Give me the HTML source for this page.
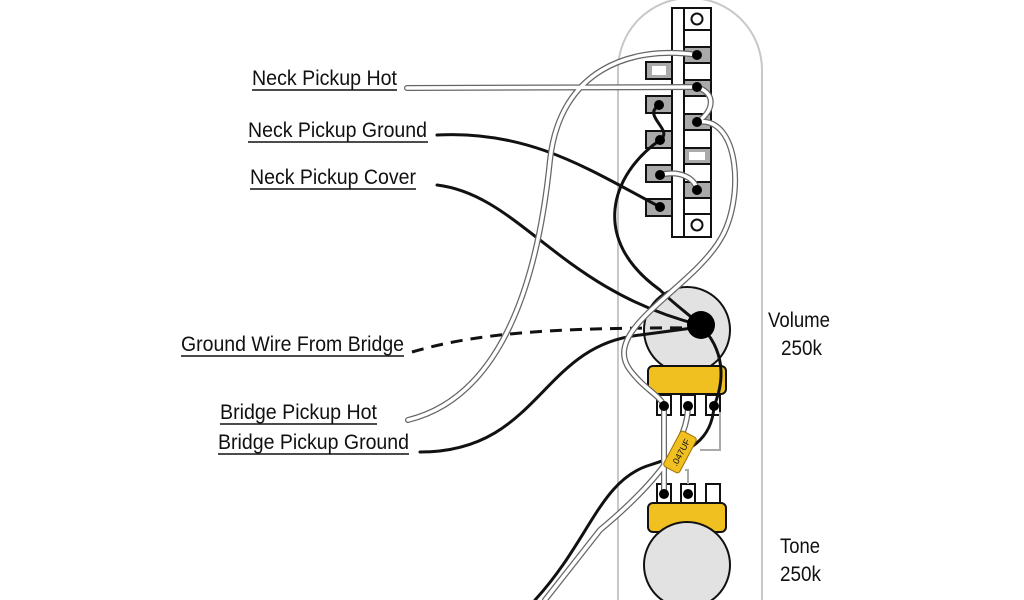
<!DOCTYPE html>
<html><head><meta charset="utf-8"><style>
html,body{margin:0;padding:0;background:#fff;}
svg{display:block;}
text{font-family:"Liberation Sans",Arial,sans-serif;font-size:21px;fill:#111;}
</style></head><body>
<svg width="1024" height="600" viewBox="0 0 1024 600" xmlns="http://www.w3.org/2000/svg">
<!-- control plate -->
<path d="M618,610 L618,70 A72,72 0 0 1 762,70 L762,610" fill="none" stroke="#c8c8c8" stroke-width="2"/>

<!-- switch -->
<g stroke="#111" stroke-width="2">
<rect x="672" y="8" width="39" height="229" fill="#fff"/>
<line x1="684" y1="8" x2="684" y2="237"/>
<g fill="#aaa">
<rect x="684" y="47" width="27" height="16"/>
<rect x="684" y="80" width="27" height="16"/>
<rect x="684" y="114" width="27" height="16"/>
<rect x="684" y="148" width="27" height="16"/>
<rect x="684" y="182" width="27" height="16"/>
<rect x="646" y="62" width="26" height="17"/>
<rect x="646" y="96" width="26" height="17"/>
<rect x="646" y="131" width="26" height="17"/>
<rect x="646" y="165" width="26" height="17"/>
<rect x="646" y="199" width="26" height="17"/>
</g>
<line x1="684" y1="30" x2="711" y2="30"/>
<line x1="684" y1="214" x2="711" y2="214"/>
</g>
<g fill="#fff" stroke="none">
<rect x="652" y="66" width="14" height="9"/>
<rect x="689" y="152" width="16" height="8"/>
<rect x="689" y="64" width="18" height="14"/>
</g>
<circle cx="697" cy="19" r="5.5" fill="#fff" stroke="#111" stroke-width="2"/>
<circle cx="697" cy="225" r="5.5" fill="#fff" stroke="#111" stroke-width="2"/>

<!-- volume pot -->
<circle cx="687" cy="330" r="43" fill="#e2e2e2" stroke="#111" stroke-width="2"/>
<rect x="648" y="366" width="78" height="28" rx="5" fill="#f0c020" stroke="#111" stroke-width="2"/>
<g fill="#fff" stroke="#111" stroke-width="2">
<rect x="657" y="395" width="14" height="20"/>
<rect x="681" y="395" width="14" height="20"/>
<rect x="706" y="395" width="14" height="20"/>
</g>
<!-- tone pot -->
<g fill="#fff" stroke="#111" stroke-width="2">
<rect x="657" y="484" width="14" height="19"/>
<rect x="681" y="484" width="14" height="19"/>
<rect x="706" y="484" width="14" height="19"/>
</g>
<rect x="648" y="503" width="78" height="29" rx="5" fill="#f0c020" stroke="#111" stroke-width="2"/>
<circle cx="687" cy="565" r="43" fill="#e2e2e2" stroke="#111" stroke-width="2"/>

<path d="M720,412 L720,450 L700,450 M685,470 L688,470 L688,484" fill="none" stroke="#aaa" stroke-width="2"/>

<!-- black wires -->
<g fill="none" stroke="#111" stroke-width="3" stroke-linecap="round">
<path d="M437,135 C530,130 590,170 660,207"/>
<path d="M437,185 C520,195 560,290 700,325"/>
<path d="M660,105 C640,115 675,130 660,140 C610,175 590,240 660,290 C675,305 690,315 700,325"/>
<path d="M420,452 C540,452 540,345 640,335 L700,327"/>
<path d="M700,325 C725,350 725,380 714,406 C712,440 690,452 650,465 C600,480 590,540 535,600"/>
</g>
<path d="M412,352 C470,335 540,327 700,328" fill="none" stroke="#111" stroke-width="3" stroke-dasharray="12,8"/>
<circle cx="701" cy="325" r="14" fill="#000"/>

<!-- white wires -->
<g fill="none" stroke-linecap="round">
<g stroke="#666" stroke-width="6">
<path d="M407,88 L697,87"/>
<path d="M697,87 C720,95 710,115 697,122"/>
<path d="M408,420 C510,395 540,260 550,160 C560,70 630,45 697,55"/>
<path d="M697,122 C740,115 745,200 720,240 C690,290 600,330 630,370 C645,390 660,395 664,406"/>
<path d="M660,175 C680,170 695,178 697,190"/>
<path d="M664,406 L664,493"/>
<path d="M688,406 C688,440 660,480 600,530 L545,600"/>
</g>
<g stroke="#fff" stroke-width="3.5">
<path d="M407,88 L697,87"/>
<path d="M697,87 C720,95 710,115 697,122"/>
<path d="M408,420 C510,395 540,260 550,160 C560,70 630,45 697,55"/>
<path d="M697,122 C740,115 745,200 720,240 C690,290 600,330 630,370 C645,390 660,395 664,406"/>
<path d="M660,175 C680,170 695,178 697,190"/>
<path d="M664,406 L664,493"/>
<path d="M688,406 C688,440 660,480 600,530 L545,600"/>
</g>
</g>

<!-- capacitor -->
<g transform="translate(680,452) rotate(-62)">
<rect x="-20" y="-9" width="40" height="18" rx="3" fill="#f0c020" stroke="#a07000" stroke-width="1"/>
<text x="0" y="4" text-anchor="middle" style="font-size:9px">.047UF</text>
</g>

<g fill="#000">
<circle cx="697" cy="55" r="5"/>
<circle cx="697" cy="87" r="5"/>
<circle cx="697" cy="122" r="5"/>
<circle cx="659" cy="105" r="5"/>
<circle cx="660" cy="140" r="5"/>
<circle cx="660" cy="175" r="5"/>
<circle cx="697" cy="190" r="5"/>
<circle cx="660" cy="207" r="5"/>
<circle cx="664" cy="406" r="5"/>
<circle cx="688" cy="406" r="5"/>
<circle cx="714" cy="406" r="5"/>
<circle cx="664" cy="494" r="5"/>
<circle cx="688" cy="494" r="5"/>
</g>

<!-- labels -->
<text x="252" y="85" textLength="145" lengthAdjust="spacingAndGlyphs">Neck Pickup Hot</text>
<line x1="252" y1="90" x2="397" y2="90" stroke="#111" stroke-width="1.5"/>
<text x="248" y="137" textLength="179" lengthAdjust="spacingAndGlyphs">Neck Pickup Ground</text>
<line x1="248" y1="142" x2="428" y2="142" stroke="#111" stroke-width="1.5"/>
<text x="250" y="184" textLength="166" lengthAdjust="spacingAndGlyphs">Neck Pickup Cover</text>
<line x1="250" y1="189" x2="416" y2="189" stroke="#111" stroke-width="1.5"/>
<text x="181" y="351" textLength="223" lengthAdjust="spacingAndGlyphs">Ground Wire From Bridge</text>
<line x1="181" y1="356" x2="404" y2="356" stroke="#111" stroke-width="1.5"/>
<text x="220" y="419" textLength="157" lengthAdjust="spacingAndGlyphs">Bridge Pickup Hot</text>
<line x1="220" y1="424" x2="377" y2="424" stroke="#111" stroke-width="1.5"/>
<text x="218" y="449" textLength="191" lengthAdjust="spacingAndGlyphs">Bridge Pickup Ground</text>
<line x1="218" y1="454" x2="409" y2="454" stroke="#111" stroke-width="1.5"/>
<text x="768" y="327" textLength="62" lengthAdjust="spacingAndGlyphs">Volume</text>
<text x="781" y="355" textLength="41" lengthAdjust="spacingAndGlyphs">250k</text>
<text x="780" y="553" textLength="40" lengthAdjust="spacingAndGlyphs">Tone</text>
<text x="780" y="581" textLength="41" lengthAdjust="spacingAndGlyphs">250k</text>
</svg>
</body></html>
